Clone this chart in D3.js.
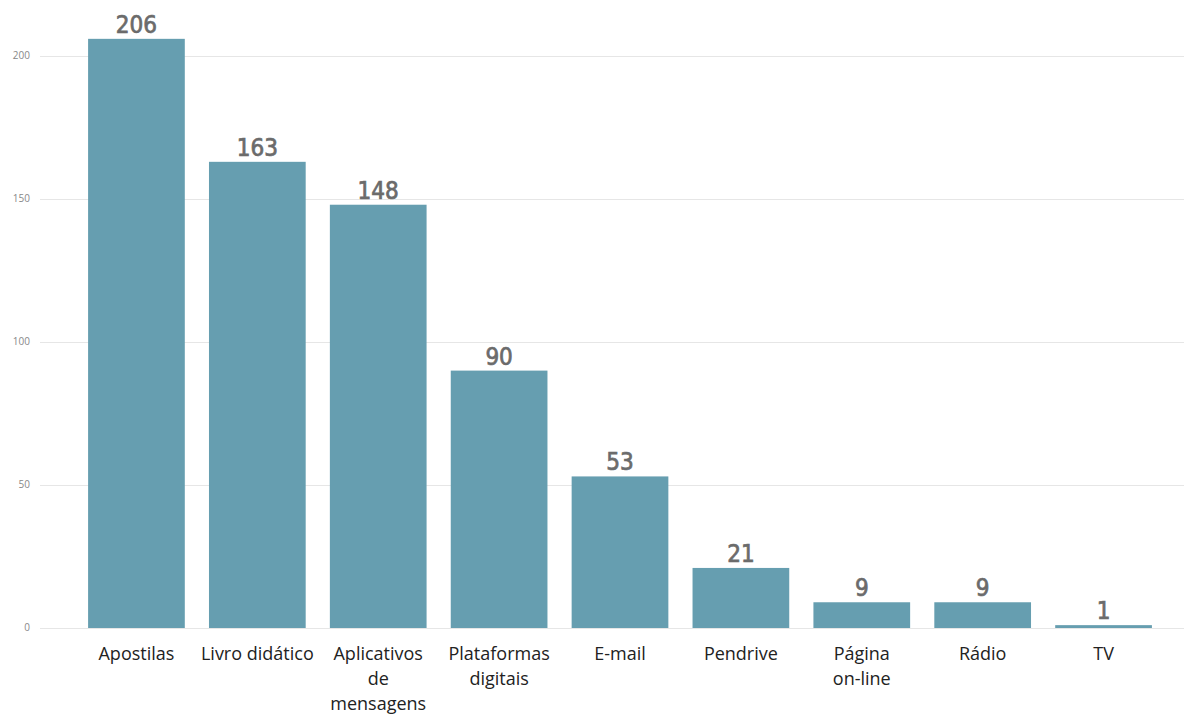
<!DOCTYPE html>
<html>
<head>
<meta charset="utf-8">
<script src="https://cdn.jsdelivr.net/npm/d3@7"></script>
<style>
  body { margin: 0; background: #fff; }
</style>
</head>
<body>
<svg id="chart" width="1184" height="715"></svg>
<script>
// data
var categories = ["Apostilas", "Livro didático", "Aplicativos de mensagens", "Plataformas digitais", "E-mail", "Pendrive", "Página on-line", "Rádio", "TV"];
var categoryLines = [["Apostilas"], ["Livro didático"], ["Aplicativos", "de", "mensagens"], ["Plataformas", "digitais"], ["E-mail"], ["Pendrive"], ["Página", "on-line"], ["Rádio"], ["TV"]];
var values = [206, 163, 148, 90, 53, 21, 9, 9, 1];
var yTicks = [0, 50, 100, 150, 200];

var svg = d3.select("#chart");

var x = d3.scaleBand()
    .domain(categories)
    .range([76, 1164])
    .paddingInner(0.2)
    .paddingOuter(0.1);

var y = d3.scaleLinear()
    .domain([0, 200])
    .range([628, 56]);

//gridlines
svg.append("g")
    .selectAll("line")
    .data(yTicks)
    .enter().append("line")
    .attr("x1", 40)
    .attr("x2", 1184)
    .attr("y1", function(d) { return y(d) + 0.5; })
    .attr("y2", function(d) { return y(d) + 0.5; })
    .style("stroke", "#e6e6e6")
    .style("stroke-width", 1);

//y tick labels
svg.append("g")
    .selectAll("text")
    .data(yTicks)
    .enter().append("text")
    .attr("x", 30)
    .attr("y", function(d) { return y(d) + 3; })
    .attr("text-anchor", "end")
    .style("font-family", "'Open Sans', sans-serif")
    .style("font-size", "10px")
    .style("fill", "#888")
    .text(function(d) { return d; });

//bars
svg.append("g")
    .selectAll("rect")
    .data(values)
    .enter().append("rect")
    .attr("x", function(d, i) { return x(categories[i]); })
    .attr("y", function(d) { return y(d); })
    .attr("width", x.bandwidth())
    .attr("height", function(d) { return y(0) - y(d); })
    .style("fill", "#669eb0");

//value labels
svg.append("g")
    .selectAll("text")
    .data(values)
    .enter().append("text")
    .attr("x", function(d, i) { return x(categories[i]) + x.bandwidth() / 2; })
    .attr("y", function(d) { return y(d) - 6; })
    .attr("text-anchor", "middle")
    .style("font-family", "'DejaVu Sans Condensed', 'DejaVu Sans', sans-serif")
    .style("font-size", "24px")
    .style("fill", "#6b6b6b")
    .style("stroke", "#6b6b6b")
    .style("stroke-width", 0.7)
    .text(function(d) { return d; });

//category labels, wrapped as in the original
var cat = svg.append("g")
    .selectAll("text")
    .data(categories)
    .enter().append("text")
    .attr("x", function(d) { return x(d) + x.bandwidth() / 2; })
    .attr("y", 660)
    .attr("text-anchor", "middle")
    .style("font-family", "'Open Sans', sans-serif")
    .style("font-size", "18px")
    .style("fill", "#222");

cat.each(function(d, i) {
    var t = d3.select(this);
    categoryLines[i].forEach(function(line, j) {
        t.append("tspan")
            .attr("x", x(d) + x.bandwidth() / 2)
            .attr("dy", j === 0 ? 0 : 25)
            .text(line);
    });
});
</script>
</body>
</html>
